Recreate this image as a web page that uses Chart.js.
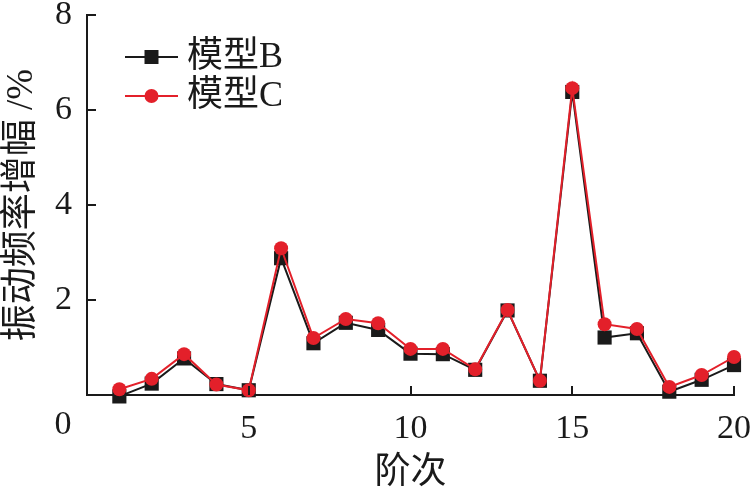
<!DOCTYPE html>
<html>
    <head>
        <meta charset="utf-8">
        <title>振动频率增幅</title>
        <script src="https://cdn.jsdelivr.net/npm/chart.js"></script>
        <style>
            html, body { margin: 0; padding: 0; background: #fff; }
            #wrap { width: 754px; height: 492px; }
        </style>
    </head>
    <body>
        <div id="wrap"><canvas id="FreqChart" width="754" height="492"></canvas></div>

        <script>
         // 阶次 1..20
         const orders = [1, 2, 3, 4, 5, 6, 7, 8, 9, 10, 11, 12, 13, 14, 15, 16, 17, 18, 19, 20];
         const modelB = [-0.03, 0.24, 0.77, 0.23, 0.10, 2.88, 1.09, 1.52, 1.37, 0.87, 0.86, 0.53, 1.78, 0.30, 6.38, 1.21, 1.30, 0.07, 0.32, 0.63];
         const modelC = [0.12, 0.34, 0.86, 0.22, 0.10, 3.09, 1.20, 1.60, 1.51, 0.97, 0.97, 0.54, 1.79, 0.30, 6.46, 1.49, 1.39, 0.17, 0.42, 0.80];
         const xTicks = [0, 5, 10, 15, 20];
         const yTicks = [0, 2, 4, 6, 8];
         const seriesNames = ['模型B', '模型C'];

         const FONT = '"Liberation Serif", "Noto Sans CJK SC", serif';
         const INK = '#1a1a1a';
         const RED = '#e3202a';

         const toPoints = vals => vals.map((v, i) => ({x: orders[i], y: v}));

         // keep the plot box where the reference has it
         const noPad = s => {
            s.paddingTop = 0; s.paddingBottom = 0;
            s.paddingLeft = 0; s.paddingRight = 0;
         };

         // inward ticks, corner "0" and the legend box
         const decor = {
            id: 'decor',
            afterDraw(chart) {
               const ctx = chart.ctx;
               const xs = chart.scales.x, ys = chart.scales.y;
               const area = chart.chartArea;
               ctx.save();
               ctx.strokeStyle = INK;
               ctx.lineWidth = 2;
               ctx.beginPath();
               xTicks.slice(1).forEach(t => {
                  const px = Math.round(xs.getPixelForValue(t));
                  ctx.moveTo(px, area.bottom);
                  ctx.lineTo(px, area.bottom - 9);
               });
               yTicks.slice(1).forEach(t => {
                  const py = Math.round(ys.getPixelForValue(t));
                  ctx.moveTo(area.left, py);
                  ctx.lineTo(area.left + 9, py);
               });
               ctx.stroke();

               ctx.fillStyle = INK;
               ctx.font = '34px ' + FONT;
               ctx.textAlign = 'center';
               ctx.textBaseline = 'middle';
               ctx.fillText('0', area.left - 24, area.bottom + 30);

               // legend
               chart.data.datasets.forEach((ds, i) => {
                  const y = area.top + 42 + i * 39;
                  const x0 = area.left + 38, x1 = area.left + 91;
                  ctx.strokeStyle = ds.borderColor;
                  ctx.lineWidth = 2;
                  ctx.beginPath();
                  ctx.moveTo(x0, y);
                  ctx.lineTo(x1, y);
                  ctx.stroke();
                  ctx.fillStyle = ds.pointBackgroundColor;
                  const cx = (x0 + x1) / 2;
                  ctx.beginPath();
                  if (ds.pointStyle === 'rect') {
                     ctx.rect(cx - 7, y - 7, 14, 14);
                  } else {
                     ctx.arc(cx, y, 7, 0, Math.PI * 2);
                  }
                  ctx.fill();
                  ctx.fillStyle = INK;
                  ctx.font = '36px ' + FONT;
                  ctx.textAlign = 'left';
                  ctx.fillText(ds.label, area.left + 100, y + 1);
               });
               ctx.restore();
            }
         };

         const chart = {
            type: 'line',
            data: {
               datasets: [{
                  label: seriesNames[0],
                  data: toPoints(modelB),
                  borderColor: INK,
                  backgroundColor: INK,
                  pointBackgroundColor: INK,
                  pointBorderColor: INK,
                  pointBorderWidth: 0,
                  pointStyle: 'rect',
                  pointRadius: 10,
                  borderWidth: 2,
                  clip: false,
                  order: 2
               }, {
                  label: seriesNames[1],
                  data: toPoints(modelC),
                  borderColor: RED,
                  backgroundColor: RED,
                  pointBackgroundColor: RED,
                  pointBorderColor: RED,
                  pointBorderWidth: 0,
                  pointStyle: 'circle',
                  pointRadius: 7,
                  borderWidth: 2,
                  clip: false,
                  order: 1
               }]
            },
            options: {
               responsive: false,
               animation: false,
               layout: { padding: { top: 15, right: 20, left: 0, bottom: 0 } },
               plugins: {
                  legend: { display: false },
                  tooltip: { enabled: false }
               },
               scales: {
                  x: {
                     type: 'linear',
                     min: 0,
                     max: 20,
                     afterFit: s => { s.height = 97; noPad(s); },
                     afterBuildTicks: s => { s.ticks = xTicks.map(v => ({value: v})); },
                     grid: { display: true, drawOnChartArea: false, drawTicks: false },
                     border: { display: true, color: INK, width: 2 },
                     ticks: {
                        color: INK,
                        padding: 14,
                        maxRotation: 0,
                        font: { family: FONT, size: 34, lineHeight: 1.2 },
                        callback: v => v === 0 ? '' : v
                     },
                     title: {
                        display: true,
                        text: '阶次',
                        color: INK,
                        padding: { top: 0, bottom: 0 },
                        font: { family: FONT, size: 36, lineHeight: 1.0 }
                     }
                  },
                  y: {
                     min: 0,
                     max: 8,
                     afterFit: s => { s.width = 87; noPad(s); },
                     afterBuildTicks: s => { s.ticks = yTicks.map(v => ({value: v})); },
                     grid: { display: true, drawOnChartArea: false, drawTicks: false },
                     border: { display: true, color: INK, width: 2 },
                     ticks: {
                        color: INK,
                        padding: 15,
                        font: { family: FONT, size: 34, lineHeight: 0.8 },
                        callback: v => v === 0 ? '' : v
                     },
                     title: {
                        display: true,
                        text: '振动频率增幅 /%',
                        color: INK,
                        padding: { top: 0, bottom: 0 },
                        font: { family: FONT, size: 37, lineHeight: 1.2 }
                     }
                  }
               }
            },
            plugins: [decor]
         };

         const ctx = document.getElementById('FreqChart').getContext('2d');
         const myChart = new Chart(ctx, chart);
        </script>
    </body>
</html>
